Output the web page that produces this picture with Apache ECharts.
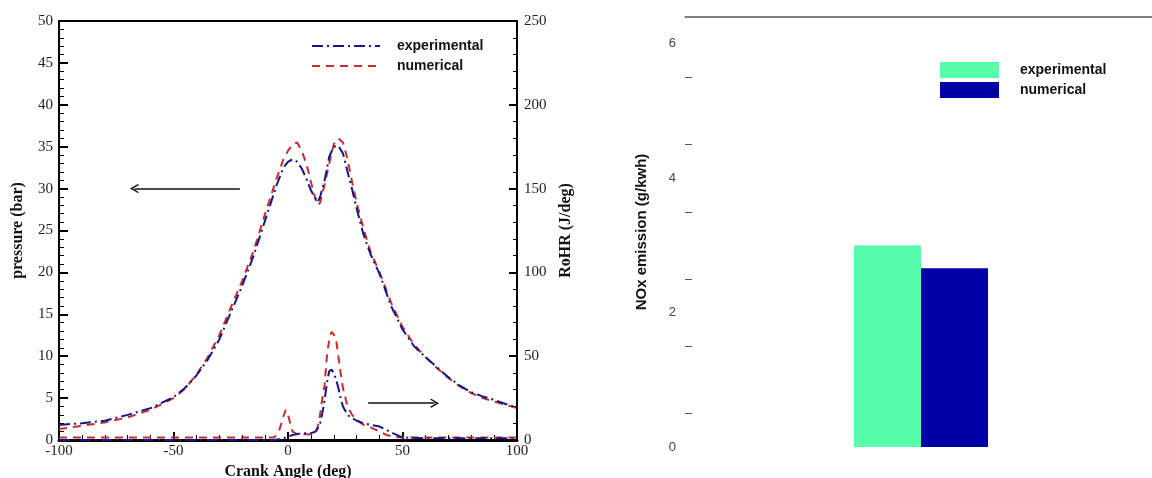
<!DOCTYPE html>
<html>
<head>
<meta charset="utf-8">
<script src="https://cdn.jsdelivr.net/npm/echarts@6/dist/echarts.min.js"></script>
<style>
  html, body { margin: 0; padding: 0; background: #fff; }
  #wrap { position: relative; width: 1152px; height: 478px; }
  #left { position: absolute; left: 0; top: 0; width: 576px; height: 478px; }
  #right { position: absolute; left: 576px; top: 0; width: 576px; height: 478px; }
</style>
</head>
<body>
<div id="wrap"><div id="left"></div><div id="right"></div></div>
<script>
// Cylinder pressure (bar) against crank angle (deg)
const pressureAngles = [-100, -90, -80, -70, -60, -50, -45, -40, -35, -30, -25, -20, -15, -10, -5, -2, 0, 2, 4, 6, 8, 10, 12, 13, 14, 16, 18, 20, 22, 24, 26, 28, 30, 33, 36, 40, 45, 50, 55, 60, 65, 70, 75, 80, 85, 90, 95, 100];
const pressureExp = [1.8, 2.0, 2.3, 3.0, 3.8, 5.1, 6.2, 7.7, 9.6, 12.0, 15.2, 18.4, 22.0, 26.2, 30.4, 32.5, 33.2, 33.5, 33.2, 32.4, 31.2, 29.8, 28.8, 28.4, 29.0, 31.0, 33.8, 35.0, 35.1, 34.2, 32.0, 29.9, 27.6, 24.5, 22.2, 19.8, 16.0, 13.2, 11.2, 9.9, 8.7, 7.5, 6.5, 5.7, 5.2, 4.8, 4.3, 3.9];
const pressureNum = [1.3, 1.7, 2.1, 2.7, 3.6, 5.0, 6.1, 7.8, 9.9, 12.5, 15.8, 19.0, 22.6, 27.0, 31.2, 33.5, 34.5, 35.3, 35.5, 34.5, 33.0, 30.8, 28.8, 28.0, 28.3, 30.5, 33.0, 35.3, 36.0, 35.5, 33.5, 30.8, 28.3, 25.2, 22.5, 20.0, 16.4, 13.5, 11.4, 9.9, 8.6, 7.4, 6.4, 5.6, 5.0, 4.6, 4.2, 3.8];

// Rate of heat release (J/deg) against crank angle (deg)
const rohrAngles = [-100, -50, -10, -6, -4, -2, -1, 0, 2, 4, 6, 8, 10, 12, 13, 14, 15, 16, 17, 18, 19, 20, 21, 22, 23, 24, 26, 28, 30, 33, 36, 40, 43, 46, 50, 60, 70, 80, 90, 100];
const rohrExp = [0, 0, 0, 0, 0.5, 1, 1.5, 2, 3, 3.5, 4, 4, 4, 5, 7, 10, 16, 24, 34, 41, 42, 40, 36, 31, 25, 20, 15, 13, 11.5, 10, 9, 8, 6, 4, 1.5, 1, 1, 1, 1, 1];
const rohrNum = [1.5, 1.5, 1.5, 1.5, 5, 14, 18, 15, 5, 3.5, 3.5, 3.5, 3.5, 4, 8, 15, 25, 33, 50, 60, 64.5, 63, 60, 50, 40, 31, 20, 15, 12, 9, 7.5, 5, 3, 2, 1.5, 1.5, 1.5, 1.5, 1.5, 1.5];

// Arrow annotations, in [crank angle, pressure] coordinates: [from, to]
const pressureArrow = [[-21, 30], [-67, 30]];
const rohrArrow = [[35, 4.4], [64, 4.4]];

// NOx emission (g/kWh)
const noxCategories = ['NOx'];
const noxExp = [3.0];
const noxNum = [2.66];
const noxLabelValues = [0, 2, 4, 6];
const noxTickValues = [0.5, 1.5, 2.5, 3.5, 4.5, 5.5];

const BLUE = '#15158c';
const RED = '#c62d2d';
const SERIF = '"Liberation Serif", "DejaVu Serif", serif';
const SANS = '"Liberation Sans", Arial, sans-serif';

const pairs = (xs, ys) => xs.map((x, i) => [x, ys[i]]);
const arrowHead = 'path://M5,0 L10,6.5 L9,7.5 L5,2.4 L1,7.5 L0,6.5 Z';

function arrowLine(seg) {
  return [{ coord: seg[0] }, { coord: seg[1] }];
}

const leftChart = echarts.init(document.getElementById('left'), null, { renderer: 'canvas' });

const valueAxisBase = {
  axisLine: { show: true, onZero: false, lineStyle: { color: '#000', width: 2 } },
  axisTick: { show: true, inside: true, length: 9, lineStyle: { color: '#000', width: 2 } },
  minorTick: { show: true, splitNumber: 5, length: 5, lineStyle: { color: '#000', width: 1 } },
  splitLine: { show: false },
  axisLabel: { fontFamily: SERIF, fontSize: 15, color: '#222' },
  nameLocation: 'middle',
  nameTextStyle: { fontFamily: SERIF, fontWeight: 'bold', fontSize: 16, color: '#111' }
};

// Hide the marker dot in the line legend so only the dash pattern shows
const lineLegendMarker = { color: 'rgba(0,0,0,0)', borderWidth: 0, opacity: 0 };

leftChart.setOption({
  animation: false,
  backgroundColor: '#fff',
  grid: {
    left: 59, top: 21, width: 458, height: 419,
    outerBoundsMode: 'none', containLabel: false,
    show: true, borderColor: '#000', borderWidth: 2, backgroundColor: 'transparent'
  },
  legend: {
    data: ['experimental', 'numerical'],
    orient: 'vertical',
    left: 311, top: 39, padding: 0,
    itemWidth: 68, itemHeight: 14, itemGap: 6,
    selectedMode: false,
    itemStyle: lineLegendMarker,
    textStyle: { fontFamily: SANS, fontWeight: 'bold', fontSize: 14, color: '#111', padding: [0, 0, 0, 12] }
  },
  xAxis: Object.assign({}, valueAxisBase, {
    type: 'value', min: -100, max: 100, interval: 50,
    name: 'Crank Angle (deg)', nameGap: 22,
    axisLine: { show: true, onZero: false, lineStyle: { color: '#000', width: 3 } },
    axisTick: { show: true, inside: true, length: 8, lineStyle: { color: '#000', width: 2 } },
    axisLabel: { fontFamily: SERIF, fontSize: 15, color: '#222', margin: 4 }
  }),
  yAxis: [
    Object.assign({}, valueAxisBase, {
      type: 'value', min: 0, max: 50, interval: 5, position: 'left',
      name: 'pressure (bar)', nameGap: 33,
      axisLabel: { fontFamily: SERIF, fontSize: 15, color: '#222', margin: 6 }
    }),
    Object.assign({}, valueAxisBase, {
      type: 'value', min: 0, max: 250, interval: 50, position: 'right',
      name: 'RoHR (J/deg)', nameGap: 35,
      axisTick: { show: true, inside: true, length: 8, lineStyle: { color: '#000', width: 2 } },
      minorTick: { show: true, splitNumber: 5, length: 4, lineStyle: { color: '#000', width: 1 } },
      axisLabel: { fontFamily: SERIF, fontSize: 15, color: '#222', margin: 7 }
    })
  ],
  series: [
    {
      name: 'experimental', type: 'line', yAxisIndex: 0, symbol: 'none', z: 3,
      data: pairs(pressureAngles, pressureExp),
      lineStyle: { color: BLUE, width: 2, type: [11, 4, 2, 4] },
      itemStyle: { color: BLUE },
      markLine: {
        silent: true, animation: false,
        symbol: ['none', arrowHead], symbolSize: [9, 9],
        label: { show: false },
        lineStyle: { color: '#111', width: 1.6, type: 'solid' },
        data: [arrowLine(pressureArrow), arrowLine(rohrArrow)]
      }
    },
    {
      name: 'numerical', type: 'line', yAxisIndex: 0, symbol: 'none', z: 2,
      data: pairs(pressureAngles, pressureNum),
      lineStyle: { color: RED, width: 2, type: [8, 6] },
      itemStyle: { color: RED }
    },
    {
      name: 'experimental', type: 'line', yAxisIndex: 1, symbol: 'none', z: 3,
      data: pairs(rohrAngles, rohrExp),
      lineStyle: { color: BLUE, width: 2, type: [11, 4, 2, 4] },
      itemStyle: { color: BLUE }
    },
    {
      name: 'numerical', type: 'line', yAxisIndex: 1, symbol: 'none', z: 2,
      data: pairs(rohrAngles, rohrNum),
      lineStyle: { color: RED, width: 2, type: [8, 6] },
      itemStyle: { color: RED }
    }
  ]
});

const rightChart = echarts.init(document.getElementById('right'), null, { renderer: 'canvas' });

rightChart.setOption({
  animation: false,
  backgroundColor: '#fff',
  grid: { left: 109, top: 17, right: -5, bottom: 31, outerBoundsMode: 'none', containLabel: false },
  legend: {
    data: ['experimental', 'numerical'],
    orient: 'vertical',
    left: 364, top: 62, padding: 0,
    icon: 'rect',
    itemWidth: 59, itemHeight: 16, itemGap: 4,
    selectedMode: false,
    textStyle: { fontFamily: SANS, fontWeight: 'bold', fontSize: 14, color: '#111', padding: [0, 0, 0, 16] }
  },
  xAxis: {
    type: 'category', data: noxCategories, position: 'top',
    axisLine: { show: true, onZero: false, lineStyle: { color: '#555', width: 1.5 } },
    axisTick: { show: false },
    axisLabel: { show: false },
    splitLine: { show: false }
  },
  yAxis: {
    type: 'value', min: 0, max: 6.4,
    name: 'NOx emission (g/kwh)', nameLocation: 'middle', nameGap: 36,
    nameTextStyle: { fontFamily: SANS, fontWeight: 'bold', fontSize: 15, color: '#111' },
    axisLine: { show: false },
    splitLine: { show: false },
    axisTick: { show: true, inside: true, length: 7, customValues: noxTickValues, lineStyle: { color: '#555', width: 1 } },
    axisLabel: { customValues: noxLabelValues, margin: 9, fontFamily: SANS, fontSize: 13, color: '#444' }
  },
  series: [
    { name: 'experimental', type: 'bar', data: noxExp, barWidth: 67, barGap: '0%', itemStyle: { color: '#57fda9' } },
    { name: 'numerical', type: 'bar', data: noxNum, barWidth: 67, barGap: '0%', itemStyle: { color: '#0000a6' } }
  ]
});
</script>
</body>
</html>
